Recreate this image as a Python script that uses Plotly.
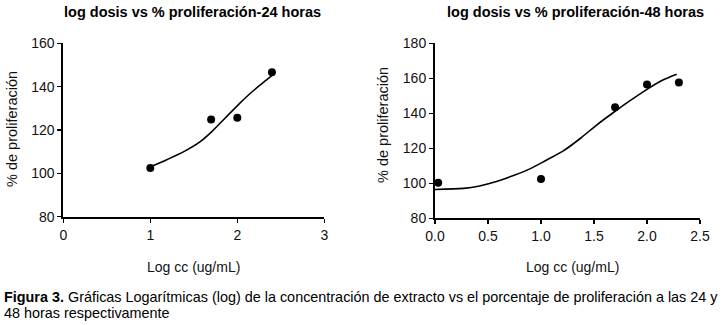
import plotly.graph_objects as go

# ---- data ----
x24 = [1.0, 1.699, 2.0, 2.398]
y24 = [102.5, 124.8, 125.7, 146.6]
fit24_x = [1.0, 1.19, 1.38, 1.57, 1.71, 1.88, 2.03, 2.18, 2.34, 2.41]
fit24_y = [103.0, 106.3, 109.9, 114.5, 119.4, 126.3, 132.4, 138.0, 143.2, 145.5]

x48 = [0.03, 1.0, 1.699, 2.0, 2.301]
y48 = [100.3, 102.4, 143.5, 156.5, 157.6]
fit48_x = [0.0, 0.27, 0.42, 0.58, 0.74, 0.90, 1.05, 1.21, 1.37, 1.525, 1.68, 1.84, 2.0, 2.15, 2.28]
fit48_y = [96.5, 97.1, 98.5, 101.0, 104.4, 108.4, 113.2, 118.5, 125.6, 133.3, 140.3, 147.2, 153.7, 159.0, 162.3]

x24_ticks = [0, 1, 2, 3]
y24_ticks = [80, 100, 120, 140, 160]
x48_ticks = [0.0, 0.5, 1.0, 1.5, 2.0, 2.5]
y48_ticks = [80, 100, 120, 140, 160, 180]

titles = ["log dosis vs % proliferación-24 horas", "log dosis vs % proliferación-48 horas"]
xtitle = "Log cc (ug/mL)"
ytitle = "% de proliferación"
caption1 = "<b>Figura 3.</b> Gráficas Logarítmicas (log) de la concentración de extracto vs el porcentaje de proliferación a las 24 y"
caption2 = "48 horas respectivamente"

W, H = 728, 325
def px(x):
    return x / W
def py(y):
    return 1 - y / H

FONT = "Liberation Sans, Arial, sans-serif"
fig = go.Figure()

fig.add_trace(go.Scatter(x=fit24_x, y=fit24_y, mode="lines", line=dict(color="black", width=1.6, shape="spline", smoothing=0.8),
                         xaxis="x", yaxis="y", hoverinfo="skip"))
fig.add_trace(go.Scatter(x=x24, y=y24, mode="markers", marker=dict(color="black", size=8),
                         xaxis="x", yaxis="y", cliponaxis=False))
fig.add_trace(go.Scatter(x=fit48_x, y=fit48_y, mode="lines", line=dict(color="black", width=1.6, shape="spline", smoothing=0.8),
                         xaxis="x2", yaxis="y2", hoverinfo="skip", cliponaxis=False))
fig.add_trace(go.Scatter(x=x48, y=y48, mode="markers", marker=dict(color="black", size=8),
                         xaxis="x2", yaxis="y2", cliponaxis=False))

axis_common = dict(showline=True, linecolor="black", linewidth=2, ticks="outside", ticklen=4,
                   tickwidth=1.5, tickcolor="black", showgrid=False, zeroline=False, automargin=False,
                   tickfont=dict(family=FONT, size=14, color="#111"), fixedrange=True)

fig.update_layout(
    width=W, height=H, margin=dict(l=0, r=0, t=0, b=0, pad=0, autoexpand=False),
    paper_bgcolor="white", plot_bgcolor="white", showlegend=False,
    xaxis=dict(domain=[px(63.3), px(324.3)], range=[0, 3], tickvals=x24_ticks, anchor="y", **axis_common),
    yaxis=dict(domain=[py(216.7), py(43.3)], range=[80, 160], tickvals=y24_ticks, anchor="x", **axis_common),
    xaxis2=dict(domain=[px(435), px(700)], range=[0, 2.5], tickvals=x48_ticks, tickformat=".1f", anchor="y2", **axis_common),
    yaxis2=dict(domain=[py(218.3), py(43.3)], range=[80, 180], tickvals=y48_ticks, anchor="x2", **axis_common),
)

ann = []
ann.append(dict(text="<b>" + titles[0] + "</b>", x=px(192.5), y=py(12), xanchor="center", yanchor="middle",
                font=dict(family=FONT, size=14.5, color="black")))
ann.append(dict(text="<b>" + titles[1] + "</b>", x=px(575), y=py(12), xanchor="center", yanchor="middle",
                font=dict(family=FONT, size=14.5, color="black")))
ann.append(dict(text=xtitle, x=px(193.5), y=py(267), xanchor="center", yanchor="middle",
                font=dict(family=FONT, size=14, color="#111")))
ann.append(dict(text=xtitle, x=px(572.5), y=py(267), xanchor="center", yanchor="middle",
                font=dict(family=FONT, size=14, color="#111")))
ann.append(dict(text=ytitle, x=px(12), y=py(129), xanchor="center", yanchor="middle", textangle=-90,
                font=dict(family=FONT, size=14.5, color="#111")))
ann.append(dict(text=ytitle, x=px(383), y=py(125), xanchor="center", yanchor="middle", textangle=-90,
                font=dict(family=FONT, size=14.5, color="#111")))
ann.append(dict(text=caption1, x=px(2), y=py(297), xanchor="left", yanchor="middle",
                font=dict(family=FONT, size=14.4, color="black")))
ann.append(dict(text=caption2, x=px(2), y=py(313), xanchor="left", yanchor="middle",
                font=dict(family=FONT, size=14.4, color="black")))
for a in ann:
    a.update(xref="paper", yref="paper", showarrow=False)
fig.update_layout(annotations=ann)

fig.write_html("out.html", config={"displayModeBar": False, "staticPlot": True},
               post_script="document.body.style.margin='0';document.body.style.overflow='hidden';")
